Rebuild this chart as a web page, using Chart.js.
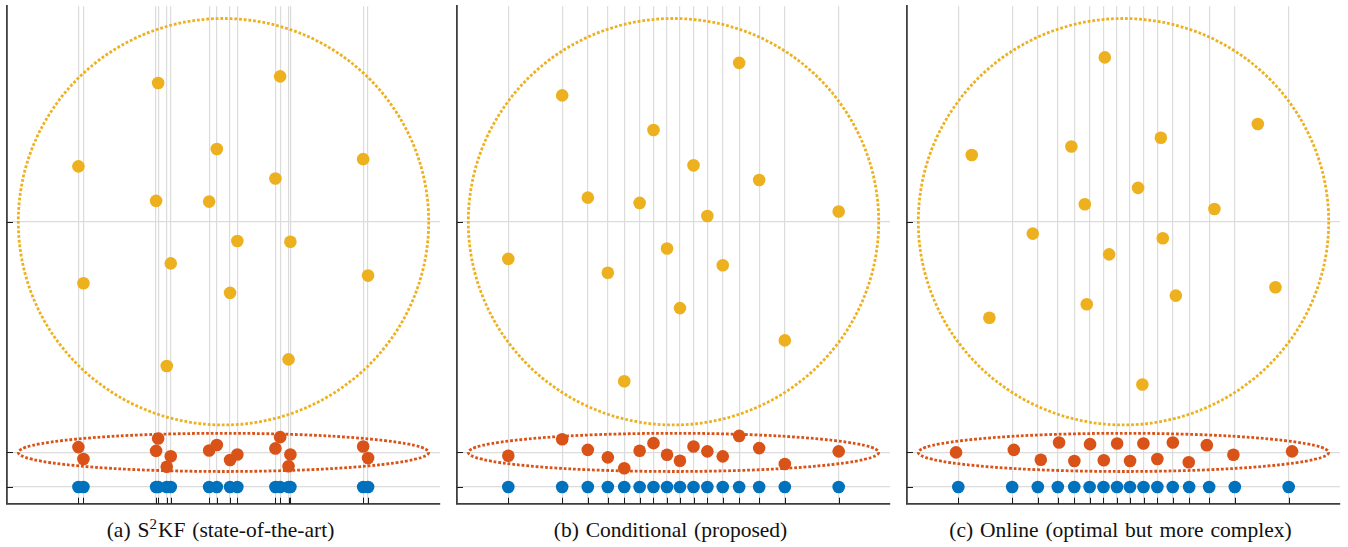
<!DOCTYPE html>
<html>
<head>
<meta charset="utf-8">
<script src="https://cdn.jsdelivr.net/npm/chart.js@4/dist/chart.umd.min.js"></script>
<style>
  html, body { margin: 0; padding: 0; background: #fff; }
  #figure { position: relative; width: 1348px; height: 547px; overflow: hidden; }
  .panel { position: absolute; top: 0; width: 450px; height: 547px; }
  .panel canvas { position: absolute; left: 0; top: 0; }
  .cap {
    position: absolute; left: 0; width: 441px; top: 520px;
    text-align: center; white-space: nowrap; word-spacing: 1.5px;
    font-family: "Liberation Serif", "Times New Roman", Tinos, serif; font-size: 21.5px; line-height: 21px; color: #111;
  }
  .cap sup { font-size: 15px; vertical-align: 0; position: relative; top: -8px; margin-right: 1px; }
</style>
</head>
<body>
<div id="figure">
  <div class="panel" style="left:0px"><canvas id="pa" width="450" height="510"></canvas><div class="cap">(a) S<sup>2</sup>KF (state-of-the-art)</div></div>
  <div class="panel" style="left:450px"><canvas id="pb" width="450" height="510"></canvas><div class="cap">(b) Conditional (proposed)</div></div>
  <div class="panel" style="left:900px"><canvas id="pc" width="450" height="510"></canvas><div class="cap">(c) Online (optimal but more complex)</div></div>
</div>
<script>
// Axis limits shared by the three panels
const xLimits = [-2.11, 2.11];
const yLimits = [-2.775, 2.12];

// Levels of the three rows (also the y tick positions)
const yLevelBlue = -2.611;
const yLevelOrange = -2.27;
const yLevelYellow = 0;
const yTickValues = [yLevelBlue, yLevelOrange, yLevelYellow];

// Confidence ellipses: [centre x, centre y, semi-axis x, semi-axis y]
const ellipseYellow = [0, yLevelYellow, 2, 2];
const ellipseOrange = [0, yLevelOrange, 2, 0.188];

// (a) S2KF: sample positions (x) and the two correlated components
const xA = [-1.414, -1.365, -0.657, -0.637, -0.553, -0.514, -0.140, -0.065,
            0.064, 0.135, 0.506, 0.552, 0.634, 0.652, 1.361, 1.409];
const yellowA = [0.545, -0.605, 0.205, 1.365, -1.420, -0.410, 0.198, 0.715,
                 -0.700, -0.190, 0.425, 1.430, -1.355, -0.197, 0.616, -0.530];
const orangeA = [-2.218, -2.335, -2.255, -2.134, -2.411, -2.308, -2.251, -2.197,
                 -2.345, -2.291, -2.231, -2.120, -2.407, -2.291, -2.212, -2.326];

// (b) Conditional: samples share the x positions
const xB = [-1.610, -1.085, -0.835, -0.640, -0.480, -0.330, -0.195, -0.063,
            0.063, 0.195, 0.330, 0.480, 0.640, 0.835, 1.085, 1.610];
const yellowB = [-0.366, 1.243, 0.237, -0.502, -1.570, 0.185, 0.902, -0.264,
                 -0.850, 0.555, 0.057, -0.428, 1.563, 0.410, -1.168, 0.101];
const orangeB = [-2.303, -2.140, -2.245, -2.319, -2.426, -2.254, -2.179, -2.293,
                 -2.352, -2.212, -2.260, -2.309, -2.108, -2.228, -2.384, -2.260];

// (c) Online: marginal samples plus independently placed joint samples
const xC = [-1.610, -1.085, -0.835, -0.640, -0.480, -0.330, -0.195, -0.063,
            0.063, 0.195, 0.330, 0.480, 0.640, 0.835, 1.085, 1.610];
const yellowCx = [-1.479, -1.307, -0.884, -0.508, -0.377, -0.358, -0.182, -0.140,
                  0.142, 0.184, 0.364, 0.383, 0.510, 0.886, 1.309, 1.481];
const yellowCy = [0.656, -0.945, -0.117, 0.741, 0.172, -0.812, 1.617, -0.321,
                  0.333, -1.602, 0.826, -0.162, -0.727, 0.125, 0.962, -0.645];
const orangeCx = [-1.632, -1.069, -0.806, -0.628, -0.479, -0.326, -0.192, -0.062,
                  0.064, 0.194, 0.330, 0.481, 0.636, 0.812, 1.071, 1.643];
const orangeCy = [-2.270, -2.245, -2.342, -2.173, -2.355, -2.189, -2.348, -2.182,
                  -2.355, -2.182, -2.335, -2.173, -2.367, -2.199, -2.293, -2.260];

const colBlue = '#0072BD';
const colOrange = '#D95319';
const colYellow = '#EDB120';

const pts = (xs, ys) => xs.map((x, i) => ({ x: x, y: Array.isArray(ys) ? ys[i] : ys }));

// Dotted ellipses placed through the chart's own scales
const ellipsePlugin = {
  id: 'ellipses',
  beforeDatasetsDraw(chart, args, opts) {
    const { ctx, scales: { x, y } } = chart;
    (opts.items || []).forEach(e => {
      const [ex, ey, ax, ay] = e.shape;
      const cx = x.getPixelForValue(ex);
      const cy = y.getPixelForValue(ey);
      const rx = x.getPixelForValue(ex + ax) - cx;
      const ry = cy - y.getPixelForValue(ey + ay);
      ctx.save();
      ctx.beginPath();
      ctx.ellipse(cx, cy, rx, ry, 0, 0, Math.PI * 2);
      ctx.setLineDash([2.8, 1.9]);
      ctx.lineCap = 'butt';
      ctx.lineWidth = 2.8;
      ctx.strokeStyle = e.color;
      ctx.stroke();
      ctx.restore();
    });
  }
};

// Short tick marks pointing into the plot area
const innerTicksPlugin = {
  id: 'innerTicks',
  beforeDatasetsDraw(chart) {
    const { ctx, chartArea: a, scales: { x, y } } = chart;
    ctx.save();
    ctx.strokeStyle = '#1a1a1a';
    ctx.lineWidth = 1;
    ctx.beginPath();
    x.ticks.forEach(t => {
      const px = Math.round(x.getPixelForValue(t.value)) + 0.5;
      ctx.moveTo(px, a.bottom);
      ctx.lineTo(px, a.bottom - 6);
    });
    y.ticks.forEach(t => {
      const py = Math.round(y.getPixelForValue(t.value)) + 0.5;
      ctx.moveTo(a.left, py);
      ctx.lineTo(a.left + 6, py);
    });
    ctx.stroke();
    ctx.restore();
  }
};

function makePanel(id, xTicks, series) {
  const ds = series.map(s => ({
    data: s.data,
    backgroundColor: s.color,
    borderWidth: 0,
    pointRadius: 6.3,
    pointHoverRadius: 6.3
  }));
  return new Chart(document.getElementById(id), {
    type: 'scatter',
    data: { datasets: ds },
    plugins: [ellipsePlugin, innerTicksPlugin],
    options: {
      responsive: false,
      animation: false,
      events: [],
      layout: { padding: { left: 7, right: 10, top: 3, bottom: 5 } },
      plugins: {
        legend: { display: false },
        tooltip: { enabled: false },
        ellipses: {
          items: [
            { shape: ellipseYellow, color: colYellow },
            { shape: ellipseOrange, color: colOrange }
          ]
        }
      },
      scales: {
        x: {
          type: 'linear', min: xLimits[0], max: xLimits[1],
          afterBuildTicks: sc => { sc.ticks = xTicks.map(v => ({ value: v })); },
          ticks: { display: false },
          grid: { color: '#dcdcdc', lineWidth: 1.2, drawTicks: false },
          border: { display: true, color: '#3f3f3f', width: 1.8 }
        },
        y: {
          type: 'linear', min: yLimits[0], max: yLimits[1],
          afterBuildTicks: sc => { sc.ticks = yTickValues.map(v => ({ value: v })); },
          ticks: { display: false },
          grid: { color: '#dcdcdc', lineWidth: 1.2, drawTicks: false },
          border: { display: true, color: '#3f3f3f', width: 1.8 }
        }
      }
    }
  });
}

makePanel('pa', xA, [
  { data: pts(xA, yellowA), color: colYellow },
  { data: pts(xA, orangeA), color: colOrange },
  { data: pts(xA, yLevelBlue), color: colBlue }
]);
makePanel('pb', xB, [
  { data: pts(xB, yellowB), color: colYellow },
  { data: pts(xB, orangeB), color: colOrange },
  { data: pts(xB, yLevelBlue), color: colBlue }
]);
makePanel('pc', xC, [
  { data: pts(yellowCx, yellowCy), color: colYellow },
  { data: pts(orangeCx, orangeCy), color: colOrange },
  { data: pts(xC, yLevelBlue), color: colBlue }
]);
</script>
</body>
</html>
